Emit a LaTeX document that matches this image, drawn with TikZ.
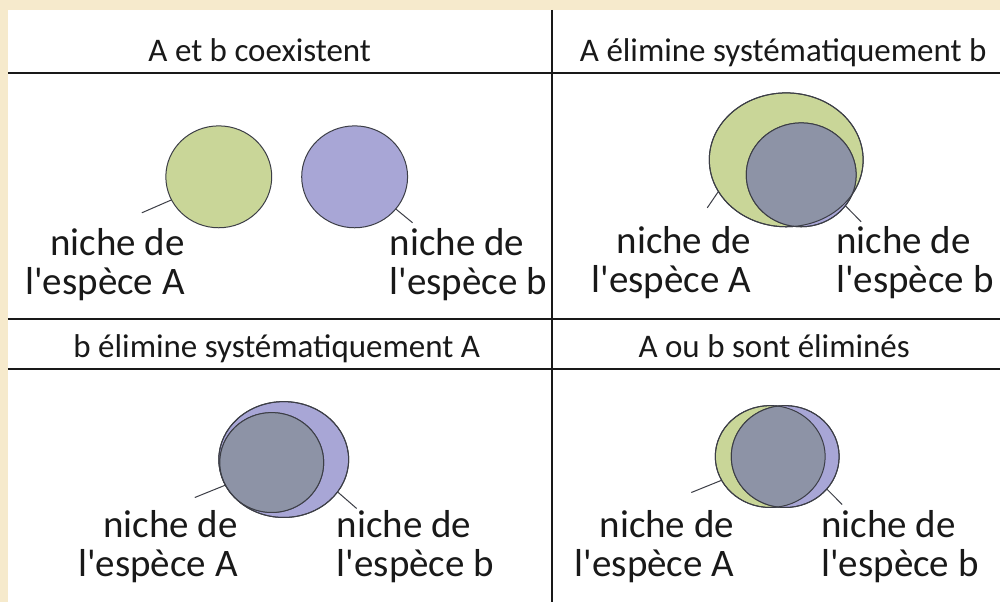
\documentclass[tikz,border=0pt]{standalone}
\usepackage{fontspec}
\setmainfont{Carlito}
\usetikzlibrary{shapes.geometric}
\definecolor{paper}{RGB}{246,234,204}
\definecolor{nicheA}{RGB}{201,214,152}
\definecolor{nicheB}{RGB}{168,166,214}
\definecolor{overlap}{RGB}{141,147,166}
\definecolor{rim}{RGB}{60,62,70}
\definecolor{ink}{RGB}{25,25,25}

\begin{document}
\begin{tikzpicture}[x=1pt,y=-1pt,
    rule/.style={line width=2pt,ink},
    title/.style={anchor=base,inner sep=0pt,text=ink,font=\fontsize{33}{36}\selectfont},
    lblA/.style={anchor=south east,align=right,inner sep=0pt,text=ink,font=\fontsize{39}{39}\selectfont},
    lblB/.style={anchor=south west,align=left,inner sep=0pt,text=ink,font=\fontsize{39}{39}\selectfont},
    niche/.style={ellipse,draw=rim,line width=1pt,inner sep=0pt,outer sep=0pt},
    leader/.style={draw=rim,line width=1pt}]
  % cadre et grille
  \fill[paper] (0,0) rectangle (1001,603);
  \fill[white] (8,10) rectangle (1001,603);
  \draw[rule] (8,73) -- (1001,73);
  \draw[rule] (8,319) -- (1001,319);
  \draw[rule] (8,369) -- (1001,369);
  \draw[rule] (553,10) -- (553,603);

  % titres
  \node[title] (tlT) at (260,62) {A et b coexistent};
  \node[title] (trT) at (784,62) {A élimine systématiquement b};
  \node[title] (blT) at (277,358) {b élimine systématiquement A};
  \node[title] (brT) at (775,358) {A ou b sont éliminés};

  % haut gauche
  \node[niche,fill=nicheA,minimum width=106pt,minimum height=102pt] (tlA) at (219,177) {};
  \node[niche,fill=nicheB,minimum width=106pt,minimum height=102pt] (tlB) at (355,177) {};
  \coordinate (tlAend) at (142,213);
  \coordinate (tlBend) at (413,223);
  \draw[leader] (tlA.206) -- (tlAend);
  \draw[leader] (tlB.322) -- (tlBend);
  \node[lblA] (tlAlbl) at (185,301) {niche de\\l\textquotesingle espèce A};
  \node[lblB] (tlBlbl) at (390,301) {niche de\\l\textquotesingle espèce b};

  % haut droite
  \node[niche,fill=nicheA,minimum width=154pt,minimum height=134pt] (trA) at (787,160) {};
  \node[niche,fill=nicheB,minimum width=110pt,minimum height=104pt] (trB) at (802,175) {};
  \begin{scope}
    \clip (trA.center) ellipse [x radius=77, y radius=67];
    \fill[overlap] (trB.center) ellipse [x radius=55, y radius=52];
  \end{scope}
  \draw[rim,line width=1pt] (trA.center) ellipse [x radius=77, y radius=67];
  \draw[rim,line width=1pt] (trB.center) ellipse [x radius=55, y radius=52];
  \coordinate (trAend) at (708,208);
  \coordinate (trBend) at (862,222);
  \draw[leader] (trA.205) -- (trAend);
  \draw[leader] (trB.325) -- (trBend);
  \node[lblA] (trAlbl) at (752,299) {niche de\\l\textquotesingle espèce A};
  \node[lblB] (trBlbl) at (837,299) {niche de\\l\textquotesingle espèce b};

  % bas gauche
  \node[niche,fill=nicheB,minimum width=130pt,minimum height=116pt] (blB) at (284,460) {};
  \node[niche,fill=nicheA,minimum width=104pt,minimum height=100pt] (blA) at (272,463) {};
  \begin{scope}
    \clip (blA.center) ellipse [x radius=52, y radius=50];
    \fill[overlap] (blB.center) ellipse [x radius=65, y radius=58];
  \end{scope}
  \draw[rim,line width=1pt] (blB.center) ellipse [x radius=65, y radius=58];
  \draw[rim,line width=1pt] (blA.center) ellipse [x radius=52, y radius=50];
  \coordinate (blAend) at (195,498);
  \coordinate (blBend) at (357,509);
  \draw[leader] (blA.206) -- (blAend);
  \draw[leader] (blB.329) -- (blBend);
  \node[lblA] (blAlbl) at (238,584) {niche de\\l\textquotesingle espèce A};
  \node[lblB] (blBlbl) at (337,584) {niche de\\l\textquotesingle espèce b};

  % bas droite
  \node[niche,fill=nicheA,minimum width=110pt,minimum height=102pt] (brA) at (771,457) {};
  \node[niche,fill=nicheB,minimum width=108pt,minimum height=102pt] (brB) at (786,457) {};
  \begin{scope}
    \clip (brA.center) ellipse [x radius=55, y radius=51];
    \fill[overlap] (brB.center) ellipse [x radius=54, y radius=51];
  \end{scope}
  \draw[rim,line width=1pt] (brA.center) ellipse [x radius=55, y radius=51];
  \draw[rim,line width=1pt] (brB.center) ellipse [x radius=54, y radius=51];
  \coordinate (brAend) at (692,493);
  \coordinate (brBend) at (843,505);
  \draw[leader] (brA.206) -- (brAend);
  \draw[leader] (brB.322) -- (brBend);
  \node[lblA] (brAlbl) at (735,584) {niche de\\l\textquotesingle espèce A};
  \node[lblB] (brBlbl) at (822,584) {niche de\\l\textquotesingle espèce b};
\end{tikzpicture}
\end{document}
